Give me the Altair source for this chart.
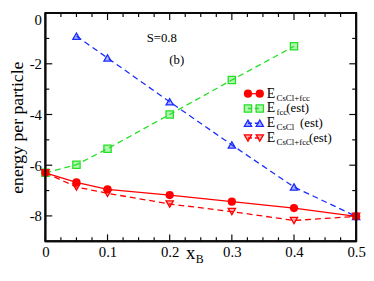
import altair as alt
import pandas as pd

# ---- data ----
x_cscl_fcc = [0.0, 0.05, 0.1, 0.2, 0.3, 0.4, 0.5]
y_cscl_fcc = [-6.30, -6.68, -6.95, -7.18, -7.44, -7.69, -8.02]

x_fcc_est = [0.0, 0.05, 0.1, 0.2, 0.3, 0.4]
y_fcc_est = [-6.30, -5.98, -5.35, -4.00, -2.64, -1.31]

x_cscl_est = [0.05, 0.1, 0.2, 0.3, 0.4, 0.5]
y_cscl_est = [-0.91, -1.77, -3.50, -5.20, -6.86, -8.02]

x_mix_est = [0.0, 0.05, 0.1, 0.2, 0.3, 0.4, 0.5]
y_mix_est = [-6.30, -6.86, -7.11, -7.53, -7.83, -8.18, -8.02]

x_major = [0.0, 0.1, 0.2, 0.3, 0.4, 0.5]
x_minor = [0.025, 0.05, 0.075, 0.125, 0.15, 0.175, 0.225, 0.25, 0.275,
           0.325, 0.35, 0.375, 0.425, 0.45, 0.475]
y_major = [0, -2, -4, -6, -8]
y_minor = [-1, -3, -5, -7]

legend_subs = ["CsCl+fcc", "fcc", "CsCl", "CsCl+fcc"]
legend_suffix = ["", "(est)", "(est)", "(est)"]

RED = "#ff0000"
GREEN = "#22e022"
BLUE = "#1a2cff"
INK = "#0a0a0a"
FONT = "Liberation Serif"

X0, X1 = 0.0, 0.5
Y0, Y1 = -9.0, 0.0
W, H = 316, 232
xs = alt.Scale(domain=[X0, X1], nice=False, zero=False)
ys = alt.Scale(domain=[Y0, Y1], nice=False, zero=False)

x_axis = alt.Axis(values=x_major, ticks=False, domain=False, grid=False,
                  labelExpr="'' + datum.value", labelFont=FONT, labelFontSize=15,
                  labelColor="black", labelPadding=3, labelFlush=False, title=None)
y_axis = alt.Axis(values=y_major, ticks=False, domain=False, grid=False,
                  labelExpr="'' + datum.value", labelFont=FONT, labelFontSize=15,
                  labelColor="black", labelPadding=4, labelFlush=True,
                  title="energy per particle",
                  titleFont=FONT, titleFontSize=18, titleFontWeight="normal",
                  titleColor="black", titlePadding=3)


def XE():
    return alt.X("x:Q", scale=xs, axis=x_axis)


def YE():
    return alt.Y("y:Q", scale=ys, axis=y_axis)


def series(xv, yv, color, dash, shape, filled):
    df = pd.DataFrame({"x": xv, "y": yv})
    line_kw = dict(color=color, strokeWidth=1.3)
    if dash:
        line_kw["strokeDash"] = [6, 4]
    line = alt.Chart(df).mark_line(**line_kw).encode(x=XE(), y=YE())
    if filled:
        pts = alt.Chart(df).mark_point(shape=shape, filled=True, color=color,
                                       size=70, opacity=1).encode(x=XE(), y=YE())
    else:
        pts = alt.Chart(df).mark_point(shape=shape, filled=False, color=color,
                                       fill=color, fillOpacity=0.35, strokeWidth=1.3,
                                       size=55, opacity=1).encode(x=XE(), y=YE())
    return [line, pts]


layers = []

# ---- inward ticks as rules anchored with datum values on the shared scales ----
def xticks(vals, px):
    dy = px * (Y1 - Y0) / H
    df = pd.DataFrame({"x": vals})
    b = alt.Chart(df).mark_rule(color=INK, strokeWidth=1.2).encode(
        x=XE(), y=alt.datum(Y0), y2=alt.datum(Y0 + dy))
    t = alt.Chart(df).mark_rule(color=INK, strokeWidth=1.2).encode(
        x=XE(), y=alt.datum(Y1), y2=alt.datum(Y1 - dy))
    return [b, t]


def yticks(vals, px):
    dx = px * (X1 - X0) / W
    df = pd.DataFrame({"y": vals})
    l = alt.Chart(df).mark_rule(color=INK, strokeWidth=1.2).encode(
        y=YE(), x=alt.datum(X0), x2=alt.datum(X0 + dx))
    r = alt.Chart(df).mark_rule(color=INK, strokeWidth=1.2).encode(
        y=YE(), x=alt.datum(X1), x2=alt.datum(X1 - dx))
    return [l, r]


layers += xticks(x_major, 7) + xticks(x_minor, 4) + yticks(y_major, 7) + yticks(y_minor, 4)

layers += series(x_fcc_est, y_fcc_est, GREEN, True, "square", False)
layers += series(x_cscl_est, y_cscl_est, BLUE, True, "triangle-up", False)
layers += series(x_mix_est, y_mix_est, RED, True, "triangle-down", False)
layers += series(x_cscl_fcc, y_cscl_fcc, RED, False, "circle", True)

# ---- frame: rules on the domain edges ----
one = pd.DataFrame({"k": [0]})
layers.append(alt.Chart(one).mark_rule(color=INK, strokeWidth=2).encode(
    x=alt.datum(X0, scale=xs), y=alt.datum(Y0, scale=ys), y2=alt.datum(Y1)))
layers.append(alt.Chart(one).mark_rule(color=INK, strokeWidth=2).encode(
    x=alt.datum(X1, scale=xs), y=alt.datum(Y0, scale=ys), y2=alt.datum(Y1)))
layers.append(alt.Chart(one).mark_rule(color=INK, strokeWidth=2).encode(
    y=alt.datum(Y0, scale=ys), x=alt.datum(X0, scale=xs), x2=alt.datum(X1)))
layers.append(alt.Chart(one).mark_rule(color=INK, strokeWidth=2).encode(
    y=alt.datum(Y1, scale=ys), x=alt.datum(X0, scale=xs), x2=alt.datum(X1)))


def txt(s, x, y, size, align="left"):
    return alt.Chart(one).mark_text(text=s, font=FONT, fontSize=size, align=align,
                                    baseline="alphabetic", color="black").encode(
        x=alt.value(x), y=alt.value(y))


layers.append(txt("S=0.8", 103, 29, 13))
layers.append(txt("(b)", 126, 52, 13))
layers.append(txt("x", 143, 250, 19))
layers.append(txt("B", 153, 254, 12))

leg_y = [82, 97, 112, 127]
leg_color = [RED, GREEN, BLUE, RED]
leg_shape = ["circle", "square", "triangle-up", "triangle-down"]
leg_dash = [False, True, True, True]
suffix_x = [0, 245, 259, 268]
LX = 206
for i in range(4):
    yy = leg_y[i]
    kw = dict(color=leg_color[i], strokeWidth=1.3)
    if leg_dash[i]:
        kw["strokeDash"] = [4, 3]
    layers.append(alt.Chart(one).mark_rule(**kw).encode(
        x=alt.value(LX), x2=alt.value(LX + 12), y=alt.value(yy)))
    for px in (LX, LX + 12):
        if i == 0:
            m = alt.Chart(one).mark_point(shape="circle", filled=True, color=RED,
                                          size=70, opacity=1)
        else:
            m = alt.Chart(one).mark_point(shape=leg_shape[i], filled=False,
                                          color=leg_color[i], fill=leg_color[i],
                                          fillOpacity=0.35, strokeWidth=1.3,
                                          size=55, opacity=1)
        layers.append(m.encode(x=alt.value(px), y=alt.value(yy)))
    layers.append(txt("E", LX + 19, yy + 4, 14))
    layers.append(txt(legend_subs[i], LX + 29, yy + 7, 9))
    if legend_suffix[i]:
        layers.append(txt(legend_suffix[i], suffix_x[i], yy + 4, 13))

chart = alt.layer(*layers).properties(
    width=W, height=H,
    padding={"left": 0, "top": 2, "right": 0, "bottom": 0},
).configure_view(stroke=INK, strokeWidth=2)

chart.save("out.html", embed_options={"renderer": "svg", "actions": False})
